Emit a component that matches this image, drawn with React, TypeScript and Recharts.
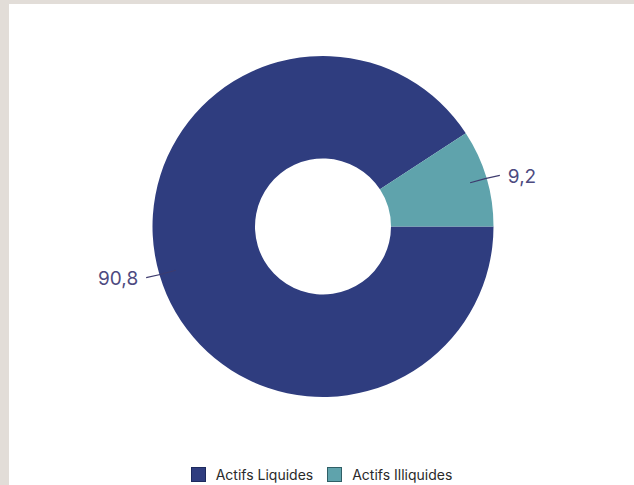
import React from 'react';
import { PieChart, Pie, Cell, Legend } from 'recharts';

const categories = ['Actifs Liquides', 'Actifs Illiquides'];
const values = [90.8, 9.2];
const valueLabels = ['90,8', '9,2'];
const colors = ['#2f3d7f', '#5fa3ac'];
const borderColors = ['#1d2a5e', '#2f5f66'];

const data = categories.map((name, i) => ({ name, value: values[i], label: valueLabels[i] }));

const RADIAN = Math.PI / 180;

const renderLabel = (props: any) => {
  const { cx, cy, midAngle, outerRadius, index } = props;
  const cos = Math.cos(-midAngle * RADIAN);
  const sin = Math.sin(-midAngle * RADIAN);
  const r1 = outerRadius - 17;
  const r2 = outerRadius + 14;
  const x1 = cx + r1 * cos;
  const y1 = cy + r1 * sin;
  const x2 = cx + r2 * cos;
  const y2 = cy + r2 * sin - 1.5 * Math.sign(sin);
  const mx = cx + (r1 + r2) / 2 * cos;
  const my = cy + (r1 + r2) / 2 * sin;
  const right = cos >= 0;
  const tx = x2 + (right ? 8 : -8);
  return (
    <g>
      <path d={`M${x1},${y1} Q${mx},${my} ${x2},${y2}`} stroke="#3e3b6e" strokeWidth={1.2} fill="none" />
      <text x={tx} y={y2 + 1} textAnchor={right ? 'start' : 'end'} dominantBaseline="central" fill="#4d4a80" fontSize={19} fontFamily="Inter, 'Noto Sans', sans-serif">
        {valueLabels[index]}
      </text>
    </g>
  );
};

const renderLegend = () => (
  <div style={{ display: 'flex', justifyContent: 'center', alignItems: 'center', fontFamily: "Inter, 'Noto Sans', sans-serif", fontSize: 14, color: '#2a2a2a' }}>
    {categories.map((c, i) => (
      <div key={c} style={{ display: 'flex', alignItems: 'center', marginRight: i === 0 ? 14 : 0 }}>
        <div style={{ width: 13, height: 13, background: colors[i], border: `1px solid ${borderColors[i]}`, marginRight: 10 }} />
        <span>{c}</span>
      </div>
    ))}
  </div>
);

export default function App() {
  return (
    <div style={{ position: 'fixed', left: 0, top: 0, width: 634, height: 485, background: '#e2ddd8' }}>
      <div style={{ position: 'absolute', left: 9, top: 4, width: 625, height: 481, background: '#ffffff' }}>
        <PieChart width={625} height={481} margin={{ top: 0, right: 0, bottom: 0, left: 0 }}>
          <Pie
            data={data}
            dataKey="value"
            nameKey="name"
            cx={314}
            cy={222.5}
            innerRadius={68}
            outerRadius={170.5}
            startAngle={0}
            endAngle={-360}
            stroke="none"
            label={renderLabel}
            labelLine={false}
            isAnimationActive={false}
          >
            {data.map((d, i) => (
              <Cell key={d.name} fill={colors[i]} />
            ))}
          </Pie>
          <Legend content={renderLegend} wrapperStyle={{ position: 'absolute', top: 462, left: 0, width: 625, height: 18 }} />
        </PieChart>
      </div>
    </div>
  );
}
